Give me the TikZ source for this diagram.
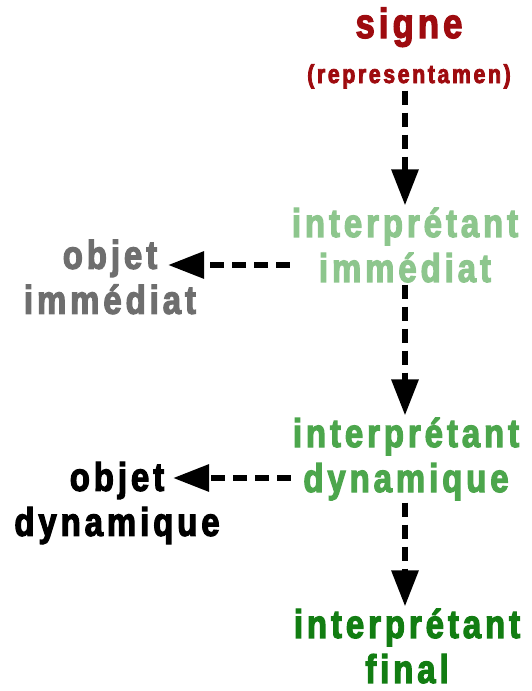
\documentclass[tikz,border=0pt]{standalone}
\usepackage{fontspec}
\setmainfont{Liberation Sans}
\newfontfamily\diagfont{Liberation Sans}[LetterSpace=10,FakeStretch=0.82,BoldFeatures={FakeBold=3}]
\usetikzlibrary{arrows.meta}
\definecolor{signered}{HTML}{9E0B0F}
\definecolor{iigreen}{HTML}{8DC68D}
\definecolor{idgreen}{HTML}{4CA64C}
\definecolor{ifgreen}{HTML}{127D12}
\definecolor{oigray}{HTML}{6E6E6E}
\tikzset{lbl/.style={align=center,inner sep=2pt,font=\diagfont\bfseries\fontsize{40}{45}\selectfont},
         dasharr/.style={line width=6pt,dash pattern=on 14pt off 8pt,-{Triangle[length=36pt,width=26pt]}}}

\begin{document}
\begin{tikzpicture}[x=1pt,y=-1pt]
  \useasboundingbox (0,0) rectangle (531,691);
  \node[lbl,text=signered](signe)at(409,48){{\fontsize{42}{40}\selectfont signe}\\{\fontsize{26}{33}\selectfont (representamen)}};
  \node[lbl,text=iigreen](ii)at(405,245){interprétant\\immédiat};
  \node[lbl,text=oigray](oi)at(110,277){objet\\immédiat};
  \node[lbl,text=idgreen](id)at(406,459){interprétant\\dynamique};
  \node[lbl,text=black](od)at(117,503){objet\\dynamique};
  \node[lbl,text=ifgreen](if)at(407,646){interprétant\\final};
  \coordinate(oiend)at(168,265);
  \coordinate(odend)at(173,478);
  \draw[dasharr](signe.south -| 405,0)--(ii.north -| 405,0);
  \draw[dasharr](ii.south -| 405,0)--(id.north -| 405,0);
  \draw[dasharr](id.south -| 405,0)--(if.north -| 405,0);
  \draw[dasharr](ii.west |- oiend)--(oiend);
  \draw[dasharr](id.west |- odend)--(odend);
\end{tikzpicture}
\end{document}
